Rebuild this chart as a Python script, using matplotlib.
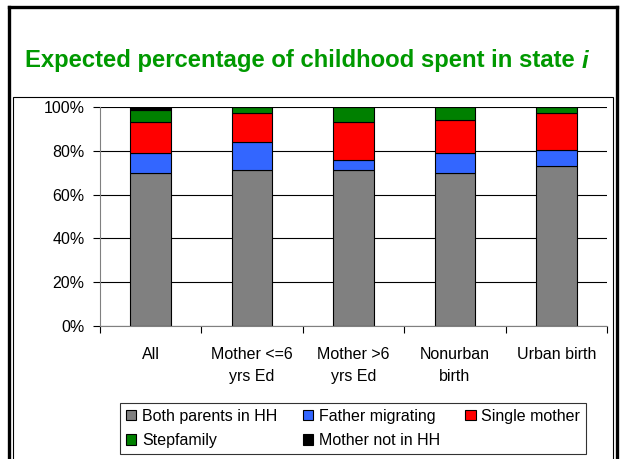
import matplotlib
matplotlib.use('Agg')
import matplotlib.pyplot as plt
from matplotlib.patches import Rectangle, Patch
from matplotlib.lines import Line2D

plt.rcParams['font.family'] = ['Liberation Sans', 'DejaVu Sans']

TITLE = 'Expected percentage of childhood spent in state '
categories = ['All', 'Mother <=6\nyrs Ed', 'Mother >6\nyrs Ed', 'Nonurban\nbirth', 'Urban birth']
series_names = ['Both parents in HH', 'Father migrating', 'Single mother', 'Stepfamily', 'Mother not in HH']
both_parents = [69.7, 71.1, 71.1, 69.7, 72.9]
father_migrating = [9.5, 12.9, 4.6, 9.1, 7.3]
single_mother = [13.8, 13.1, 17.3, 15.3, 16.9]
stepfamily = [5.6, 2.9, 7.0, 5.9, 2.9]
mother_not_hh = [1.4, 0, 0, 0, 0]
y_ticks = [0, 20, 40, 60, 80, 100]

colors = ['#808080', '#3366FF', '#FF0000', '#008000', '#000000']
series = [both_parents, father_migrating, single_mother, stepfamily, mother_not_hh]

W, H = 621, 459
FS = 11.5
fig = plt.figure(figsize=(W / 100, H / 100), dpi=100)

# slide frame and chart box
fig.add_artist(Line2D([9 / W, 9 / W], [0, 1 - 7 / H], color='black', lw=2.4))
fig.add_artist(Line2D([617 / W, 617 / W], [0, 1 - 7 / H], color='black', lw=2.4))
fig.add_artist(Line2D([9 / W, 617 / W], [1 - 7 / H, 1 - 7 / H], color='black', lw=2.4))
fig.add_artist(Rectangle((12.5 / W, -0.05), 600.5 / W, 1.05 - 97 / H, transform=fig.transFigure,
                         fill=False, ec='black', lw=0.8))

# title with italic i
t = fig.text(25 / W, 1 - 61 / H, TITLE, color='#009900', fontsize=17.2, fontweight='bold', va='center')
fig.canvas.draw()
bb = t.get_window_extent(renderer=fig.canvas.get_renderer())
fig.text(bb.x1 / W, 1 - 61 / H, 'i', color='#009900', fontsize=17.2, fontweight='bold',
         fontstyle='italic', va='center')

ax = fig.add_axes([100 / W, 1 - 326 / H, 507 / W, 219 / H])
x = list(range(len(categories)))
bottom = [0] * len(categories)
for vals, c, name in zip(series, colors, series_names):
    ax.bar(x, vals, width=0.4, bottom=bottom, color=c, edgecolor='black', linewidth=0.8, label=name)
    bottom = [b + v for b, v in zip(bottom, vals)]

ax.set_xlim(-0.5, len(categories) - 0.5)
ax.set_ylim(0, 100)
ax.set_yticks(y_ticks)
ax.set_yticklabels([f'{v}%' for v in y_ticks], fontsize=FS)
ax.yaxis.grid(True, color='black', lw=0.8)
ax.set_axisbelow(True)
ax.tick_params(axis='y', length=5, pad=6, color='black')

ax.set_xticks([i - 0.5 for i in range(len(categories) + 1)])
ax.set_xticklabels([])
ax.tick_params(axis='x', which='major', direction='out', length=5, color='black')
ax.set_xticks(x, minor=True)
ax.set_xticklabels(categories, minor=True, fontsize=FS, linespacing=1.6)
ax.tick_params(axis='x', which='minor', length=0, pad=15)

for s in ['top', 'right']:
    ax.spines[s].set_visible(False)
ax.spines['left'].set_color('#808080')
ax.spines['bottom'].set_color('#808080')

handles = [Patch(facecolor=c, edgecolor='black', lw=0.8) for c in colors]
order = [0, 3, 1, 4, 2]
leg = fig.legend([handles[i] for i in order], [series_names[i] for i in order],
                 loc='center', bbox_to_anchor=(353 / W, 1 - 428.5 / H), ncol=3,
                 fontsize=FS, frameon=True, fancybox=False, edgecolor='black',
                 handlelength=0.65, handleheight=0.65, handletextpad=0.35,
                 columnspacing=1.6, labelspacing=0.6, borderpad=0.35)
leg.get_frame().set_linewidth(0.8)

fig.savefig('out.png', dpi=100)
